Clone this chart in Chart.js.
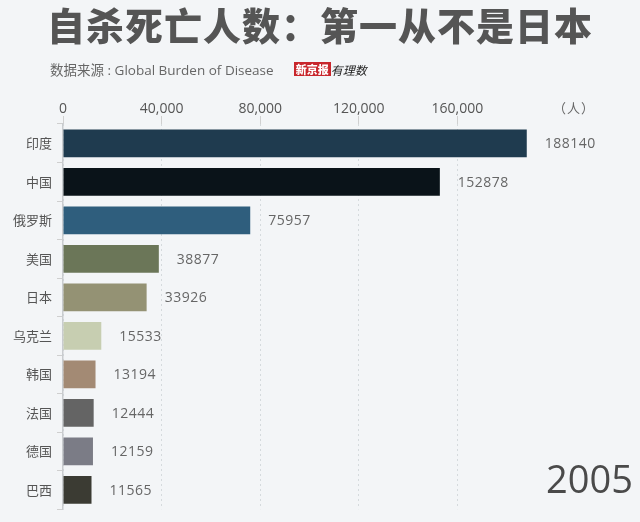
<!DOCTYPE html>
<html>
<head>
<meta charset="utf-8">
<script src="https://cdn.jsdelivr.net/npm/chart.js@4.4.1/dist/chart.umd.min.js"></script>
<style>
  html, body { margin: 0; padding: 0; background: #f3f5f7; }
  #wrap { position: relative; width: 640px; height: 522px; overflow: hidden; }
  #chart { position: absolute; left: 0; top: 0; }
  #title { position: absolute; left: 0; width: 640px; top: -1px; text-align: center;
    font-family: "Noto Sans CJK SC", sans-serif; font-weight: 900; font-size: 38px;
    letter-spacing: 1px; color: #555; line-height: 50px; }
  #source { position: absolute; left: 50px; top: 60px; font-family: "Open Sans", "Noto Sans CJK SC", sans-serif;
    font-size: 13.5px; color: #666; line-height: 20px; white-space: nowrap; }
  #source .logo { display: inline-block; margin-left: 20px; background: #c8262c; color: #fff;
    font-family: "Noto Sans CJK SC", sans-serif; font-weight: 900; font-size: 11px; line-height: 14px;
    padding: 0 2px; vertical-align: 1px; }
  #source .logo2 { font-family: "Noto Sans CJK SC", sans-serif; font-style: italic; font-size: 12px; color: #222; }
  #unit { position: absolute; left: 553px; top: 98px; font-family: "Noto Sans CJK SC", sans-serif;
    font-size: 13px; color: #666; letter-spacing: 1px; }
  #year { position: absolute; left: 546px; top: 452px; font-family: "Open Sans", sans-serif;
    font-size: 38px; color: #4a4a4a; line-height: 52px; }
</style>
</head>
<body>
<div id="wrap">
  <canvas id="chart" width="640" height="522"></canvas>
  <div id="title">自杀死亡人数：第一从不是日本</div>
  <div id="source">数据来源 : Global Burden of Disease<span class="logo">新京报</span><span class="logo2">有理数</span></div>
  <div id="unit">（人）</div>
  <div id="year">2005</div>
</div>
<script>
const countries = ['印度', '中国', '俄罗斯', '美国', '日本', '乌克兰', '韩国', '法国', '德国', '巴西'];
const deaths = [188140, 152878, 75957, 38877, 33926, 15533, 13194, 12444, 12159, 11565];
const xTicks = [0, 40000, 80000, 120000, 160000];
const barColors = ['#1f3b4f', '#0a1319', '#2f5e7d', '#6b7658', '#949274', '#c7ceb1', '#a38a74', '#646464', '#7b7c86', '#3b3b33'];

// numbers at the end of each bar
const valueLabels = {
    id: 'valueLabels',
    afterDatasetsDraw(chart) {
        const ctx = chart.ctx;
        const meta = chart.getDatasetMeta(0);
        ctx.save();
        ctx.font = '14px "Open Sans", sans-serif';
        ctx.letterSpacing = '0.5px';
        ctx.fillStyle = '#666';
        ctx.textAlign = 'left';
        ctx.textBaseline = 'middle';
        meta.data.forEach((bar, i) => {
            ctx.fillText(String(deaths[i]), bar.x + 18, bar.y + 1);
        });
        ctx.restore();
    }
};

new Chart(document.getElementById('chart').getContext('2d'), {
    type: 'bar',
    data: {
        labels: countries,
        datasets: [{
            data: deaths,
            backgroundColor: barColors,
            borderWidth: 0,
            barPercentage: 0.72,
            categoryPercentage: 1
        }]
    },
    options: {
        indexAxis: 'y',
        responsive: false,
        animation: false,
        devicePixelRatio: 1,
        layout: { padding: { top: 90, left: 0, right: 84, bottom: 8 } },
        plugins: {
            legend: { display: false },
            tooltip: { enabled: false }
        },
        scales: {
            x: {
                position: 'top',
                min: 0,
                max: 200000,
                afterBuildTicks: (scale) => { scale.ticks = xTicks.map(v => ({ value: v })); },
                afterFit: (scale) => { scale.height = 34; },
                ticks: {
                    color: '#555',
                    font: { family: '"Open Sans", sans-serif', size: 14 },
                    padding: -1,
                    callback: (v) => v.toLocaleString('en-US')
                },
                grid: {
                    color: '#d5dadd',
                    tickColor: '#d0d0d0',
                    tickLength: 8,
                    tickBorderDash: []
                },
                border: { display: false, dash: [2, 3] }
            },
            y: {
                afterFit: (scale) => { scale.width = 63; },
                ticks: {
                    color: '#555',
                    font: { family: '"Noto Sans CJK SC", sans-serif', size: 13 },
                    padding: 5
                },
                grid: {
                    drawOnChartArea: false,
                    tickColor: '#cfcfcf',
                    tickLength: 6
                },
                border: { display: true, color: '#c9cccf', width: 1.5 }
            }
        }
    },
    plugins: [valueLabels]
});
</script>
</body>
</html>
